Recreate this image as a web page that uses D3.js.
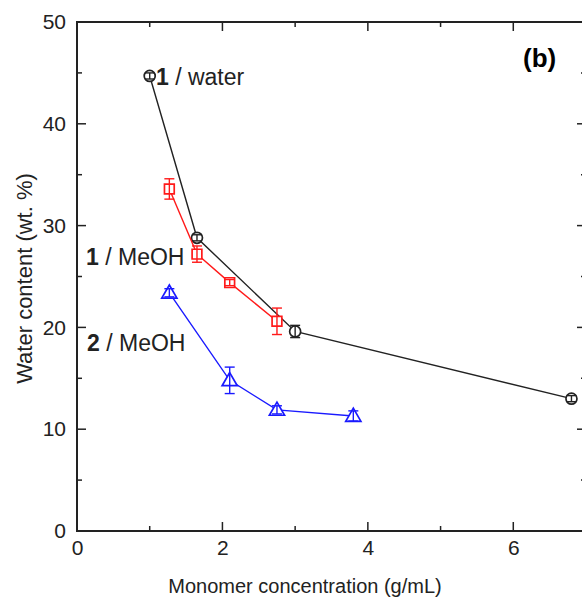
<!DOCTYPE html>
<html>
<head>
<meta charset="utf-8">
<script src="https://cdn.jsdelivr.net/npm/d3@7"></script>
<style>
  body { margin: 0; background: #fff; }
  text { font-family: "Liberation Sans", Arial, sans-serif; }
</style>
</head>
<body>
<div id="chart"></div>
<script>
// data
const waterX = [1.0, 1.65, 3.0, 6.8];
const waterY = [44.7, 28.8, 19.6, 13.0];
const waterErr = [0.3, 0.3, 0.6, 0.3];

const meoh1X = [1.27, 1.65, 2.1, 2.75];
const meoh1Y = [33.6, 27.2, 24.4, 20.6];
const meoh1Err = [1.0, 0.8, 0.3, 1.3];

const meoh2X = [1.27, 2.1, 2.75, 3.8];
const meoh2Y = [23.4, 14.8, 11.9, 11.3];
const meoh2Err = [0.4, 1.3, 0.4, 0.5];

const xTicks = [0, 2, 4, 6];
const yTicks = [0, 10, 20, 30, 40, 50];

const width = 582, height = 603;
const margin = { top: 22, right: -4, bottom: 72, left: 77 };

const svg = d3.select('#chart')
  .append('svg')
  .attr('width', width)
  .attr('height', height);

const x = d3.scaleLinear().domain([0, 7]).range([margin.left, width - margin.right]);
const y = d3.scaleLinear().domain([0, 50]).range([height - margin.bottom, margin.top]);

const x0 = x.range()[0], x1 = x.range()[1];
const y0 = y.range()[0], y1 = y.range()[1];

// axes - ticks point inward
const majorLen = 9, minorLen = 5;
const xMinor = d3.range(1, 8, 2);
const yMinor = d3.range(5, 50, 10);

const gx = svg.append('g')
  .attr('transform', `translate(0, ${y0})`)
  .call(d3.axisBottom(x).tickValues(xTicks).tickFormat(d3.format('d')).tickSize(0).tickPadding(9));
gx.select('.domain').remove();
gx.selectAll('text').attr('font-size', 21).attr('fill', '#222')
  .attr('font-family', '"Liberation Sans", Arial, sans-serif');

const gy = svg.append('g')
  .attr('transform', `translate(${x0}, 0)`)
  .call(d3.axisLeft(y).tickValues(yTicks).tickFormat(d3.format('d')).tickSize(0).tickPadding(11));
gy.select('.domain').remove();
gy.selectAll('text').attr('font-size', 21).attr('fill', '#222')
  .attr('font-family', '"Liberation Sans", Arial, sans-serif');

const ticks = svg.append('g').attr('stroke', '#222').attr('stroke-width', 1.5);
xTicks.concat(xMinor).forEach(v => {
  const len = xTicks.includes(v) ? majorLen : minorLen;
  ticks.append('line').attr('x1', x(v)).attr('x2', x(v)).attr('y1', y0).attr('y2', y0 - len);
  ticks.append('line').attr('x1', x(v)).attr('x2', x(v)).attr('y1', y1).attr('y2', y1 + len);
});
yTicks.concat(yMinor).forEach(v => {
  const len = yTicks.includes(v) ? majorLen : minorLen;
  ticks.append('line').attr('y1', y(v)).attr('y2', y(v)).attr('x1', x0).attr('x2', x0 + len);
  ticks.append('line').attr('y1', y(v)).attr('y2', y(v)).attr('x1', x1).attr('x2', x1 - len);
});

// frame
svg.append('rect')
  .attr('x', x0).attr('y', y1)
  .attr('width', x1 - x0).attr('height', y0 - y1)
  .attr('fill', 'none').attr('stroke', '#222').attr('stroke-width', 2);

// axis titles
svg.append('text')
  .attr('x', 305).attr('y', 593)
  .attr('text-anchor', 'middle').attr('font-size', 20).attr('fill', '#222')
  .text('Monomer concentration (g/mL)');

svg.append('text')
  .attr('transform', `translate(32, ${(y0 + y1) / 2 + 2}) rotate(-90)`)
  .attr('text-anchor', 'middle').attr('font-size', 22).attr('fill', '#222')
  .text('Water content (wt. %)');

// series
function drawSeries(xs, ys, errs, color, shape) {
  const pts = xs.map((v, i) => [v, ys[i], errs[i]]);
  const line = d3.line().x(d => x(d[0])).y(d => y(d[1]));
  svg.append('path')
    .datum(pts)
    .attr('fill', 'none')
    .attr('stroke', color)
    .attr('stroke-width', 1.4)
    .attr('d', line);

  const sym = d3.symbol().type(shape).size(shape === d3.symbolTriangle ? 100 : 95);
  svg.selectAll(null)
    .data(pts)
    .enter()
    .append('path')
    .attr('transform', d => `translate(${x(d[0])}, ${y(d[1]) + (shape === d3.symbolTriangle ? 1 : 0)})`)
    .attr('d', sym)
    .attr('fill', '#fff')
    .attr('stroke', color)
    .attr('stroke-width', 1.7);

  const eb = svg.append('g').attr('stroke', color).attr('stroke-width', 1.4);
  pts.forEach(d => {
    const cx = x(d[0]), top = y(d[1] + d[2]), bot = y(d[1] - d[2]);
    eb.append('line').attr('x1', cx).attr('x2', cx).attr('y1', top).attr('y2', bot);
    eb.append('line').attr('x1', cx - 5).attr('x2', cx + 5).attr('y1', top).attr('y2', top);
    eb.append('line').attr('x1', cx - 5).attr('x2', cx + 5).attr('y1', bot).attr('y2', bot);
  });
}

drawSeries(waterX, waterY, waterErr, '#222', d3.symbolCircle);
drawSeries(meoh1X, meoh1Y, meoh1Err, '#ff1a1a', d3.symbolSquare);
drawSeries(meoh2X, meoh2Y, meoh2Err, '#1a1aff', d3.symbolTriangle);

// series labels
function label(xp, yp, num, rest) {
  const t = svg.append('text').attr('x', xp).attr('y', yp)
    .attr('font-size', 23).attr('fill', '#222');
  t.append('tspan').attr('font-weight', 'bold').text(num);
  t.append('tspan').text(rest);
}
label(156, 85, '1', ' / water');
label(86, 265, '1', ' / MeOH');
label(87, 351, '2', ' / MeOH');

svg.append('text')
  .attr('x', 523).attr('y', 67)
  .attr('font-size', 26).attr('font-weight', 'bold')
  .attr('font-family', '"Open Sans", "Liberation Sans", sans-serif')
  .attr('fill', '#000')
  .text('(b)');
</script>
</body>
</html>
